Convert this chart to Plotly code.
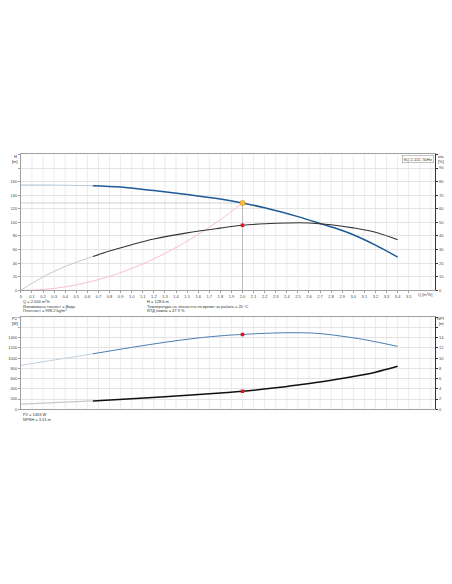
import plotly.graph_objects as go

# page body has an 8px margin, so the figure is sized to fit inside the window
OFF = 8
W, H = 452 - OFF, 584 - OFF

# ---- data ----
q_ticks = [round(i * 0.1, 1) for i in range(36)]
q_ticktext = ["0" if v == 0 else f"{v:.1f}" for v in q_ticks]

# head curve (faded start + main)
q_h_faded = [0, 0.2, 0.4, 0.65]
h_faded = [155, 155, 154.7, 154]
q_h = [0.65, 0.9, 1.2, 1.5, 1.8, 2.0, 2.2, 2.5, 2.7, 2.9, 3.0, 3.2, 3.4]
h_main = [154, 152, 146.8, 141, 134.5, 128.6, 121.5, 108.5, 98.5, 88, 81.8, 66.5, 49]

# efficiency curve
q_eta_faded = [0, 0.1, 0.2, 0.3, 0.4, 0.5, 0.65]
eta_faded = [0, 5.2, 9.9, 14.0, 17.6, 20.7, 24.9]
q_eta = [0.65, 0.8, 1.0, 1.2, 1.5, 1.8, 2.0, 2.2, 2.4, 2.6, 2.8, 3.0, 3.2, 3.4]
eta_main = [24.9, 28.9, 33.6, 37.8, 42.3, 45.8, 47.9, 49.0, 49.6, 49.6, 48.3, 46.0, 42.7, 37.2]

# system curve (pink)
q_sys = [0, 0.2, 0.4, 0.6, 0.8, 1.0, 1.2, 1.4, 1.6, 1.8, 2.0]
h_sys = [0, 1.3, 5.1, 11.6, 20.6, 32, 46.3, 63, 82.3, 104, 128.6]

# power P2
q_p2_faded = [0, 0.3, 0.65]
p2_faded = [860, 960, 1085]
q_p2 = [0.65, 1.0, 1.3, 1.6, 1.9, 2.0, 2.2, 2.5, 2.7, 2.9, 3.1, 3.4]
p2_main = [1085, 1210, 1310, 1395, 1452, 1463, 1485, 1497, 1480, 1428, 1362, 1230]

# NPSH
q_npsh_faded = [0, 0.3, 0.65]
npsh_faded = [1.0, 1.3, 1.63]
q_npsh = [0.65, 1.0, 1.4, 1.8, 2.0, 2.3, 2.5, 2.7, 3.0, 3.2, 3.4]
npsh_main = [1.63, 2.05, 2.6, 3.2, 3.51, 4.2, 4.75, 5.35, 6.4, 7.25, 8.4]

# duty point
duty_q = 2.0
duty_h = 128.6
duty_eta = 47.9
duty_p2 = 1463
duty_npsh = 3.51

h_ticks = list(range(0, 201, 20))
h_ticktext = [str(v) if v <= 160 else "" for v in h_ticks]
eta_ticks = list(range(0, 101, 10))
eta_ticktext = [str(v) if v <= 90 else "" for v in eta_ticks]
p2_ticks = list(range(0, 1801, 200))
p2_ticktext = [str(v) if v <= 1400 else "" for v in p2_ticks]
npsh_ticks = list(range(0, 19, 2))
npsh_ticktext = [str(v) if v <= 14 else "" for v in npsh_ticks]

info_left = ["Q = 2.004 m³/h", "Изпомпвана течност = Вода", "Плътност = 998.2 kg/m³"]
info_mid = ["H = 128.6 m", "Температура на течността по време на работа = 20 °C", "КПД помпа = 47.9 %"]
info_bottom = ["P2 = 1463 W", "NPSH = 3.51 m"]
title_box = "SQ 2-115, 50Hz"


def px(x):
    return (x - OFF) / W


def py(y):
    return 1 - (y - OFF) / H


FONT = "Liberation Sans, Arial, sans-serif"
GRID = "#e3e3e3"
FRAME = "#a0a0a0"

fig = go.Figure()

# upper chart
fig.add_trace(go.Scatter(x=[0, duty_q], y=[duty_h, duty_h], mode="lines",
                         line=dict(color="#c8c8c8", width=0.8), xaxis="x", yaxis="y"))
fig.add_trace(go.Scatter(x=[duty_q, duty_q], y=[0, duty_h], mode="lines",
                         line=dict(color="#b0b0b0", width=0.8), xaxis="x", yaxis="y"))
fig.add_trace(go.Scatter(x=q_sys, y=h_sys, mode="lines", line=dict(color="#f6b3bd", width=0.8),
                         line_shape="spline", xaxis="x", yaxis="y"))
fig.add_trace(go.Scatter(x=q_h_faded, y=h_faded, mode="lines", line=dict(color="#b9cbdc", width=1.2),
                         line_shape="spline", xaxis="x", yaxis="y"))
fig.add_trace(go.Scatter(x=q_h, y=h_main, mode="lines", line=dict(color="#1d5a96", width=1.5),
                         line_shape="spline", xaxis="x", yaxis="y"))
fig.add_trace(go.Scatter(x=q_eta_faded, y=eta_faded, mode="lines", line=dict(color="#c8c8c8", width=1),
                         line_shape="spline", xaxis="x", yaxis="y2"))
fig.add_trace(go.Scatter(x=q_eta, y=eta_main, mode="lines", line=dict(color="#333333", width=1.1),
                         line_shape="spline", xaxis="x", yaxis="y2"))
fig.add_trace(go.Scatter(x=[duty_q], y=[duty_eta], mode="markers",
                         marker=dict(symbol="square", size=3.5, color="#e8161b"), xaxis="x", yaxis="y2"))
fig.add_trace(go.Scatter(x=[duty_q], y=[duty_h], mode="markers",
                         marker=dict(symbol="circle", size=5, color="#f7c544",
                                     line=dict(color="#e0901c", width=0.8)), xaxis="x", yaxis="y"))

# lower chart
fig.add_trace(go.Scatter(x=q_p2_faded, y=p2_faded, mode="lines", line=dict(color="#c2d0de", width=1),
                         xaxis="x2", yaxis="y3"))
fig.add_trace(go.Scatter(x=q_p2, y=p2_main, mode="lines", line=dict(color="#4a7db0", width=1),
                         line_shape="spline", xaxis="x2", yaxis="y3"))
fig.add_trace(go.Scatter(x=q_npsh_faded, y=npsh_faded, mode="lines", line=dict(color="#c8c8c8", width=1.2),
                         xaxis="x2", yaxis="y4"))
fig.add_trace(go.Scatter(x=q_npsh, y=npsh_main, mode="lines", line=dict(color="#111111", width=1.5),
                         line_shape="spline", xaxis="x2", yaxis="y4"))
fig.add_trace(go.Scatter(x=[duty_q], y=[duty_p2], mode="markers",
                         marker=dict(symbol="square", size=3.5, color="#e8161b"), xaxis="x2", yaxis="y3"))
fig.add_trace(go.Scatter(x=[duty_q], y=[duty_npsh], mode="markers",
                         marker=dict(symbol="square", size=3.5, color="#e8161b"), xaxis="x2", yaxis="y4"))

xdom = [px(13), px(435)]
up_dom = [py(291.3), py(155)]
low_dom = [py(410.7), py(318.3)]
xrange = [0, 3.74]
tickfont = dict(family=FONT, size=4, color="#444444")

fig.update_layout(
    width=W, height=H, autosize=False,
    margin=dict(l=0, r=0, t=0, b=0),
    paper_bgcolor="white", plot_bgcolor="white",
    showlegend=False,
    font=dict(family=FONT, size=4, color="#333333"),
    xaxis=dict(domain=xdom, range=xrange, tickvals=q_ticks, ticktext=q_ticktext,
               showgrid=False, zeroline=False, showline=True, linecolor=FRAME, linewidth=0.8,
               mirror=True, ticks="outside", ticklen=2, tickcolor=FRAME, tickfont=tickfont,
               anchor="y"),
    yaxis=dict(domain=up_dom, range=[0, 200], tickvals=h_ticks, ticktext=h_ticktext,
               showgrid=True, gridcolor=GRID, gridwidth=0.7, zeroline=False, showline=True,
               linecolor=FRAME, linewidth=0.8, ticks="outside", ticklen=2, tickcolor=FRAME,
               tickfont=tickfont, anchor="x"),
    yaxis2=dict(range=[0, 100], tickvals=eta_ticks, ticktext=eta_ticktext, overlaying="y",
                side="right", showgrid=False, zeroline=False, showline=True, linecolor="#333333",
                linewidth=1, ticks="outside", ticklen=2, tickcolor="#333333", tickfont=tickfont,
                anchor="x"),
    xaxis2=dict(domain=xdom, range=xrange, dtick=0.1, showticklabels=False,
                showgrid=False, zeroline=False, showline=True, linecolor=FRAME, linewidth=0.8,
                mirror=True, anchor="y3"),
    yaxis3=dict(domain=low_dom, range=[0, 1800], tickvals=p2_ticks, ticktext=p2_ticktext,
                showgrid=True, gridcolor=GRID, gridwidth=0.7, zeroline=False, showline=True,
                linecolor=FRAME, linewidth=0.8, ticks="outside", ticklen=2, tickcolor=FRAME,
                tickfont=tickfont, anchor="x2"),
    yaxis4=dict(range=[0, 18], tickvals=npsh_ticks, ticktext=npsh_ticktext, overlaying="y3",
                side="right", showgrid=False, zeroline=False, showline=True, linecolor="#333333",
                linewidth=1, ticks="outside", ticklen=2, tickcolor="#333333", tickfont=tickfont,
                anchor="x2"),
)

# vertical grid lines every 0.1 on both charts
for i in range(1, 38):
    qv = i * 0.1
    for xr, yr in (("x", "y"), ("x2", "y3")):
        fig.add_shape(type="line", xref=xr, yref=f"{yr} domain", x0=qv, x1=qv, y0=0, y1=1,
                      line=dict(color=GRID, width=0.7), layer="below")


def label(text, x, y, xanchor="left", size=4, **kw):
    fig.add_annotation(text=text, x=px(x), y=py(y), xref="paper", yref="paper",
                       xanchor=xanchor, yanchor="middle", showarrow=False,
                       font=dict(family=FONT, size=size, color="#333333"), **kw)


# axis titles
label("H", 7, 157, xanchor="center")
label("[m]", 7, 162, xanchor="center")
label("eta", 441, 157, xanchor="center")
label("[%]", 441, 162, xanchor="center")
label("P2", 7, 320, xanchor="center")
label("[W]", 7, 325, xanchor="center")
label("NPSH", 442, 320, xanchor="center")
label("[m]", 442, 325, xanchor="center")
fig.add_annotation(text="Q [m³/h]", x=3.65, y=py(295.5), xref="x", yref="paper",
                   xanchor="center", yanchor="middle", showarrow=False,
                   font=dict(family=FONT, size=4, color="#444444"))

# info texts
for i, t in enumerate(info_left):
    label(t, 13, 303 + i * 4.2)
for i, t in enumerate(info_mid):
    label(t, 139, 303 + i * 4.2)
for i, t in enumerate(info_bottom):
    label(t, 13, 416 + i * 5.3)

# model box
fig.add_annotation(text=title_box, x=px(433.5), y=py(159.5), xref="paper", yref="paper",
                   xanchor="right", yanchor="middle", showarrow=False,
                   font=dict(family=FONT, size=4, color="#333333"),
                   bordercolor="#999999", borderwidth=0.6, borderpad=1, bgcolor="white")

fig.write_html("out.html")
